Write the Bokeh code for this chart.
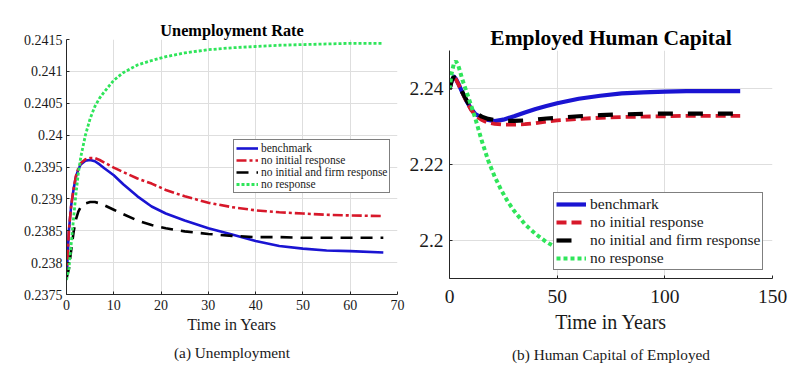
from bokeh.plotting import figure
from bokeh.layouts import row, column
from bokeh.models import (Range1d, FixedTicker, CustomJSTickFormatter, Legend,
                          LegendItem, Title)
from bokeh.embed import file_html
from bokeh.resources import INLINE

FONT = "Liberation Serif"

# ---------------- (a) Unemployment rate ----------------
t_u = [0, 0.5, 1, 1.5, 2, 2.5, 3, 4, 5, 6, 7, 8, 10, 12, 15, 18, 21, 25, 30,
       35, 40, 45, 50, 55, 60, 67]
u_bench = [0.23775, 0.2385, 0.2389, 0.23915, 0.23935, 0.23946, 0.23954, 0.23960,
           0.23961, 0.23959, 0.23954, 0.23948, 0.23937, 0.23923, 0.23904, 0.23888,
           0.23877, 0.23866, 0.23854, 0.23844, 0.23834, 0.23826, 0.23822, 0.23819,
           0.23818, 0.23816]
u_noinit = [0.23775, 0.2385, 0.2389, 0.23916, 0.23936, 0.23948, 0.23956, 0.23962,
            0.23964, 0.23964, 0.23961, 0.23957, 0.23949, 0.23942, 0.23932, 0.23924,
            0.23914, 0.23904, 0.23894, 0.23887, 0.23882, 0.23879, 0.23877, 0.23875,
            0.23874, 0.23873]
u_noinit_firm = [0.23775, 0.2379, 0.2382, 0.23848, 0.23868, 0.2388, 0.23887, 0.23893,
                 0.23895, 0.23895, 0.23893, 0.2389, 0.23883, 0.23876, 0.23866, 0.23859,
                 0.23854, 0.23849, 0.23845, 0.23842, 0.2384, 0.2384, 0.23839, 0.23839,
                 0.23839, 0.23839]
u_noresp = [0.23773, 0.2379, 0.2383, 0.2387, 0.23908, 0.2394, 0.23965, 0.24000,
            0.24026, 0.24045, 0.24058, 0.24068, 0.24086, 0.24098, 0.2411, 0.24117,
            0.24123, 0.24129, 0.24134, 0.24137, 0.24139, 0.24141, 0.24142, 0.24143,
            0.24144, 0.24144]
u_xticks = [0, 10, 20, 30, 40, 50, 60, 70]
u_yticks = [0.2375, 0.238, 0.2385, 0.239, 0.2395, 0.24, 0.2405, 0.241, 0.2415]

# ---------------- (b) Human capital of employed ----------------
t_h = [0, 1, 2, 3, 4, 6, 8, 10, 12, 15, 18, 21, 25, 30, 35, 40, 45, 50, 60, 70,
       80, 90, 100, 110, 120, 135]
h_bench = [2.2398, 2.2420, 2.2431, 2.2425, 2.2414, 2.2389, 2.2366, 2.2347, 2.2333,
           2.2323, 2.2317, 2.2314, 2.2318, 2.2327, 2.2337, 2.2346, 2.2354, 2.2361,
           2.2373, 2.2381, 2.2387, 2.2390, 2.2392, 2.2393, 2.2393, 2.2393]
h_noinit = [2.2398, 2.2420, 2.2430, 2.2424, 2.2413, 2.2388, 2.2364, 2.2344, 2.2329,
            2.2317, 2.2310, 2.2307, 2.2305, 2.2305, 2.2306, 2.2309, 2.2313, 2.2316,
            2.2320, 2.2323, 2.2325, 2.2326, 2.2327, 2.2328, 2.2328, 2.2328]
h_noinit_firm = [2.2398, 2.2421, 2.2431, 2.2425, 2.2415, 2.2390, 2.2368, 2.2349,
                 2.2336, 2.2326, 2.2320, 2.2317, 2.2315, 2.2315, 2.2316, 2.2318,
                 2.2321, 2.2323, 2.2327, 2.2330, 2.2332, 2.2333, 2.2334, 2.2334,
                 2.2334, 2.2334]
t_h_noresp = [0, 1, 2, 3, 4, 5, 6, 8, 10, 12, 15, 18, 21, 24, 27, 30, 35, 40, 45, 50]
h_noresp = [2.2398, 2.2440, 2.2465, 2.2472, 2.2462, 2.2443, 2.2423, 2.2390, 2.2356,
            2.2321, 2.2262, 2.2210, 2.2168, 2.2133, 2.2103, 2.2078, 2.2043, 2.2017,
            2.1996, 2.1980]
h_xticks = [0, 50, 100, 150]
h_yticks = [2.2, 2.22, 2.24]

labels = ["benchmark", "no initial response", "no initial and firm response",
          "no response"]

BLUE = "#1a14d2"
RED = "#d7182a"
BLACK = "#000000"
GREEN = "#2fe55a"
GRID = "#dedede"
AX = "#262626"
TXT = "#1a1a1a"

fmt = CustomJSTickFormatter(code="return parseFloat(tick.toFixed(4)).toString();")


def style(p, xticks, yticks, tick_size, sx, sy, xlabel_size, xlabel_standoff):
    p.outline_line_color = None
    p.background_fill_color = "white"
    p.border_fill_color = "white"
    p.xaxis.ticker = FixedTicker(ticks=xticks)
    p.yaxis.ticker = FixedTicker(ticks=yticks)
    p.yaxis.formatter = fmt
    for ax in (p.xaxis, p.yaxis):
        ax.axis_line_color = AX
        ax.major_tick_line_color = AX
        ax.major_tick_in = 3
        ax.major_tick_out = 0
        ax.minor_tick_line_color = None
        ax.major_label_text_font = FONT
        ax.major_label_text_font_size = tick_size
        ax.major_label_text_color = TXT
    p.xaxis.major_label_standoff = sx
    p.yaxis.major_label_standoff = sy
    p.xaxis.axis_label = "Time in Years"
    p.xaxis.axis_label_text_font = FONT
    p.xaxis.axis_label_text_font_style = "normal"
    p.xaxis.axis_label_text_font_size = xlabel_size
    p.xaxis.axis_label_text_color = TXT
    p.xaxis.axis_label_standoff = xlabel_standoff
    p.xgrid.ticker = FixedTicker(ticks=xticks)
    p.ygrid.ticker = FixedTicker(ticks=yticks)
    p.grid.grid_line_color = GRID
    p.grid.grid_line_width = 1


# ---- left figure ----
p1 = figure(width=406, height=372,
            min_border_left=66, min_border_right=9, min_border_top=39,
            min_border_bottom=78,
            x_range=Range1d(0, 70), y_range=Range1d(0.2375, 0.2415),
            output_backend="svg", toolbar_location=None)
p1.title.text = "Unemployment Rate"
p1.title.text_font = FONT
p1.title.text_font_size = "16.3px"
p1.title.text_font_style = "bold"
p1.title.text_color = "black"
p1.title.align = "center"
p1.title.standoff = 0
style(p1, u_xticks, u_yticks, "14px", 5, 4, "16px", 3)

r1 = p1.line(t_u, u_bench, line_color=BLUE, line_width=2.6, line_join="round")
r2 = p1.line(t_u, u_noinit, line_color=RED, line_width=2.6, line_dash="10 3 3 3")
r3 = p1.line(t_u, u_noinit_firm, line_color=BLACK, line_width=2.6, line_dash="12 8")
r4 = p1.line(t_u, u_noresp, line_color=GREEN, line_width=2.8, line_dash="3 2")

leg1 = Legend(items=[LegendItem(label=l, renderers=[r]) for l, r in
                     zip(labels, [r1, r2, r3, r4])],
              location=(167, 101), orientation="vertical",
              label_text_font=FONT, label_text_font_size="11.5px",
              label_text_color=TXT,
              glyph_width=22, glyph_height=12, label_height=12, spacing=0,
              padding=2, margin=0, label_standoff=3,
              border_line_color=BLACK, border_line_width=1,
              background_fill_color="white", background_fill_alpha=1)
p1.add_layout(leg1, "center")
p1.add_layout(Title(text="(a) Unemployment", align="center", text_font=FONT,
                    text_font_size="15.3px", text_font_style="normal",
                    text_color=TXT, standoff=13), "below")

# ---- right figure ----
p2 = figure(width=398, height=372,
            min_border_left=42, min_border_right=32, min_border_top=50,
            min_border_bottom=94,
            x_range=Range1d(0, 150), y_range=Range1d(2.19, 2.25),
            output_backend="svg", toolbar_location=None)
p2.title.text = "Employed Human Capital"
p2.title.text_font = FONT
p2.title.text_font_size = "21.5px"
p2.title.text_font_style = "bold"
p2.title.text_color = "black"
p2.title.align = "center"
p2.title.standoff = 2
style(p2, h_xticks, h_yticks, "19.5px", 11, 6, "20px", 5)

s1 = p2.line(t_h, h_bench, line_color=BLUE, line_width=4.2, line_join="round")
s2 = p2.line(t_h, h_noinit, line_color=RED, line_width=3.8, line_dash="10 5")
s3 = p2.line(t_h, h_noinit_firm, line_color=BLACK, line_width=4.2, line_dash="15 15")
s4 = p2.line(t_h_noresp, h_noresp, line_color=GREEN, line_width=4, line_dash="4 3")

leg2 = Legend(items=[LegendItem(label=l, renderers=[r]) for l, r in
                     zip(labels, [s1, s2, s3, s4])],
              location=(104, 8), orientation="vertical",
              label_text_font=FONT, label_text_font_size="15.5px",
              label_text_color=TXT,
              glyph_width=30, glyph_height=16, label_height=16, spacing=0,
              padding=2, margin=0, label_standoff=4,
              border_line_color=BLACK, border_line_width=1,
              background_fill_color="white", background_fill_alpha=1)
p2.add_layout(leg2, "center")
p2.add_layout(Title(text="(b) Human Capital of Employed", align="center",
                    text_font=FONT, text_font_size="15.3px",
                    text_font_style="normal", text_color=TXT,
                    standoff=16), "below")

layout = row(column(p1), column(p2), spacing=0)
open("out.html", "w").write(file_html(layout, INLINE))
